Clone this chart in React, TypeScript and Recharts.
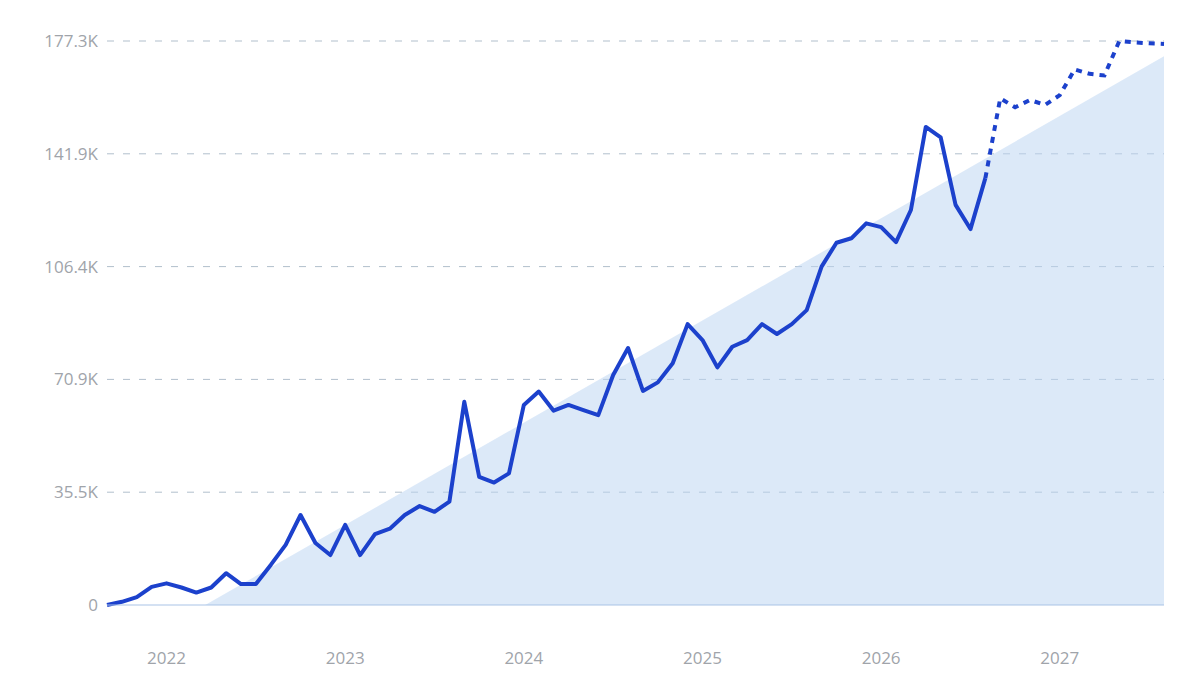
import React from "react"
import { ComposedChart, Line, Area, XAxis, YAxis, CartesianGrid } from "recharts"

// monthly values, Sep 2021 .. Aug 2026 (solid part)
const actualValues = [
  0, 1000, 2500, 5700, 6800, 5500, 3900, 5500, 10000, 6600, 6600, 12600,
  18900, 28300, 19500, 15700, 25200, 15700, 22300, 24000, 28300, 31100, 29300, 32500,
  63900, 40300, 38500, 41400, 62900, 67100, 61100, 62900, 61300, 59700, 72300, 80800,
  67300, 70000, 76000, 88300, 83300, 74700, 81200, 83300, 88300, 85200, 88300, 92700,
  106400, 113900, 115300, 120000, 118800, 114100, 124200, 150300, 147000, 125800, 118200, 134200,
]

// forecast, Aug 2026 .. Aug 2027 (dashed part, first point shared)
const forecastValues = [
  134200, 159300, 156500, 158800, 157200, 160300, 168400, 167000, 166500, 177330, 176900, 176600, 176400,
]
const forecastStart = actualValues.length - 1

// trend band endpoints (month index, value)
const trendIndex = [6.6, 71]
const trendValues = [0, 172500]

const yearTicks = [4, 16, 28, 40, 52, 64]
const yearLabels = ["2022", "2023", "2024", "2025", "2026", "2027"]

const valueTicks = [0, 35466, 70932, 106398, 141864, 177330]
const valueLabels = ["0", "35.5K", "70.9K", "106.4K", "141.9K", "177.3K"]

const total = forecastStart + forecastValues.length
const data = Array.from({ length: total }, (_, i) => ({
  i,
  actual: i <= forecastStart ? actualValues[i] : undefined,
  forecast: i >= forecastStart ? forecastValues[i - forecastStart] : undefined,
}))

const trend = trendIndex.map((x, k) => ({ i: x, trend: trendValues[k] }))

const lineColor = "#1c41cc"
const tickStyle = { fontSize: 17, fill: "#a0a4aa", fontFamily: "Open Sans, sans-serif" }

export default function App() {
  return (
    <div style={{ position: "fixed", left: 0, top: 0, width: 1200, height: 694, background: "#fff" }}>
      <ComposedChart width={1200} height={694} data={data} margin={{ top: 41, right: 36, bottom: 29, left: 0 }}>
        <CartesianGrid
          horizontal
          vertical={false}
          strokeDasharray="7 9"
          stroke="#b1bfcc"
          horizontalValues={valueTicks.slice(1)}
        />
        <XAxis
          dataKey="i"
          type="number"
          domain={[0, total - 1]}
          ticks={yearTicks}
          tickFormatter={(v) => yearLabels[yearTicks.indexOf(v)]}
          tickLine={false}
          axisLine={{ stroke: "#a9c3e6" }}
          tick={tickStyle}
          tickMargin={41}
          height={60}
        />
        <YAxis
          type="number"
          domain={[0, valueTicks[valueTicks.length - 1]]}
          ticks={valueTicks}
          tickFormatter={(v) => valueLabels[valueTicks.indexOf(v)]}
          tickLine={false}
          axisLine={false}
          tick={tickStyle}
          tickMargin={3}
          width={107}
          interval={0}
        />
        <Area
          data={trend}
          dataKey="trend"
          type="linear"
          stroke="none"
          fill="#bcd5f2"
          fillOpacity={0.52}
          isAnimationActive={false}
        />
        <Line
          dataKey="actual"
          type="linear"
          stroke={lineColor}
          strokeWidth={4}
          strokeLinejoin="round"
          dot={false}
          activeDot={false}
          isAnimationActive={false}
        />
        <Line
          dataKey="forecast"
          type="linear"
          stroke={lineColor}
          strokeWidth={4}
          strokeDasharray="6 6"
          dot={false}
          activeDot={false}
          isAnimationActive={false}
        />
      </ComposedChart>
    </div>
  )
}
